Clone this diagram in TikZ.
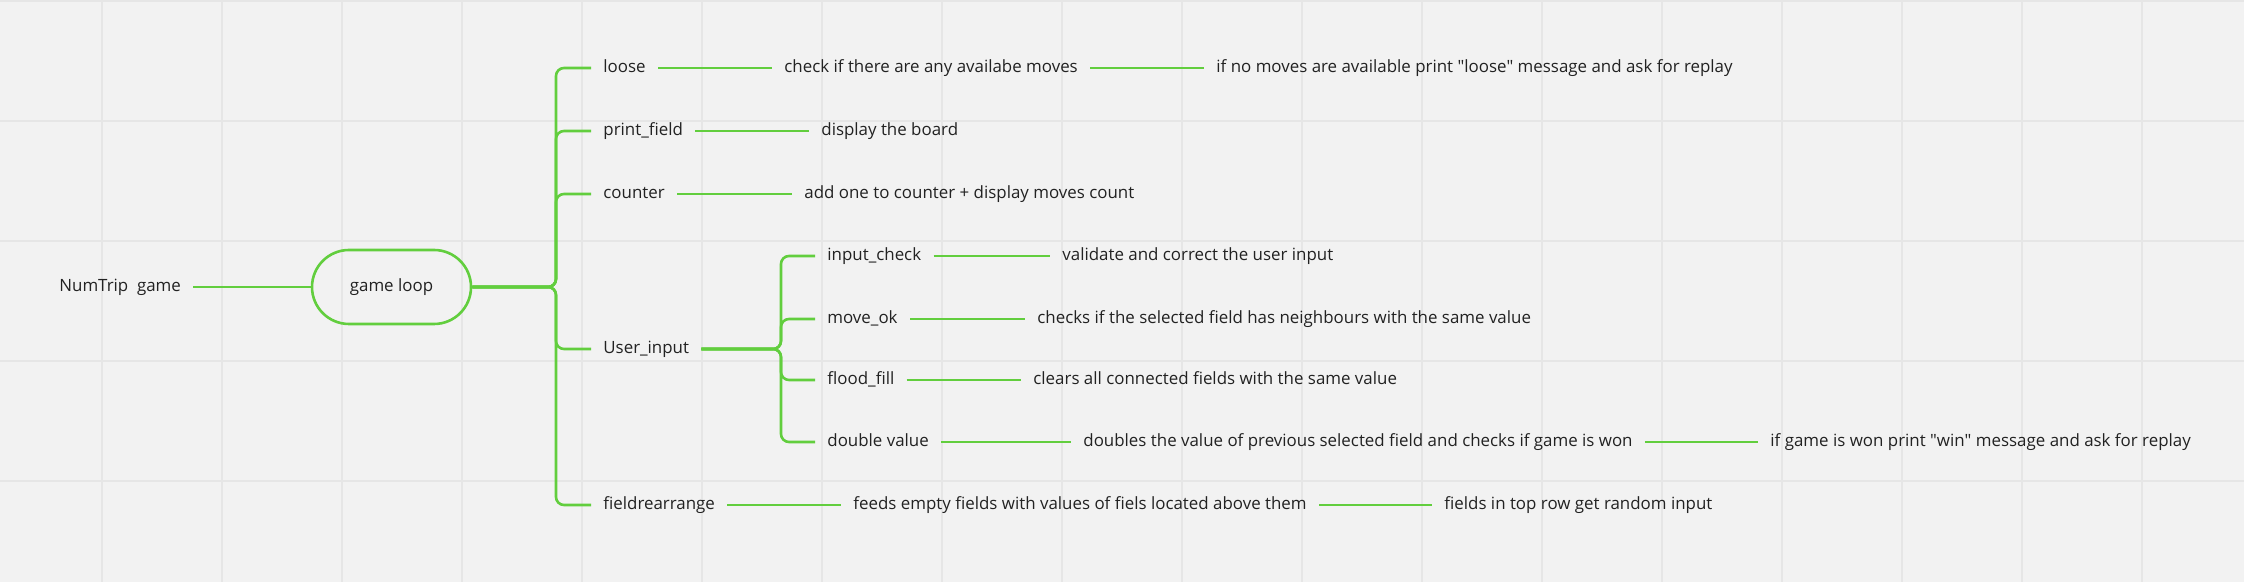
\documentclass[tikz,border=0pt]{standalone}
\usepackage{fontspec}
\setmainfont{Open Sans}
\usepackage{tikz}
\definecolor{bgcol}{RGB}{242,242,242}
\definecolor{gridcol}{RGB}{230,230,230}
\definecolor{linkgreen}{RGB}{98,206,62}
\definecolor{txtcol}{RGB}{34,34,34}

\begin{document}
\begin{tikzpicture}[x=0.5pt,y=-0.5pt,
	txt/.style={shape=rectangle,anchor=west,inner xsep=6pt,inner ysep=0pt,text height=6.5pt,text depth=2pt,text=txtcol,font=\fontsize{8.45pt}{10pt}\selectfont},
	loopbox/.style={shape=rectangle,draw=linkgreen,line width=1.3pt,rounded corners=18.5pt,minimum width=79.5pt,minimum height=37pt,text=txtcol,font=\fontsize{8.45pt}{10pt}\selectfont},
	link/.style={draw=linkgreen,line width=1.3pt},
	branch/.style={link,rounded corners=4pt},
	gridline/.style={draw=gridcol,line width=0.8pt}]
	\useasboundingbox (0,0) rectangle (2244,582);
	\fill[bgcol] (0,0) rectangle (2244,582);
	\foreach \gx in {102,222,...,2142} \draw[gridline] (\gx,0) -- (\gx,582);
	\foreach \gy in {1,121,241,361,481} \draw[gridline] (0,\gy) -- (2244,\gy);
	\node[txt](root) at (47,287) {NumTrip\ \ game};
	\node[loopbox](loop) at (391.5,287) {game loop};
	\coordinate(jl) at (556,287);
	\node[txt](loose) at (591,68) {loose};
	\node[txt](chk) at (772,68) {check if there are any availabe moves};
	\node[txt](nomv) at (1204,68) {if no moves are available print \textquotedbl loose\textquotedbl\ message and ask for replay};
	\node[txt](prt) at (591,131) {print\_field};
	\node[txt](brd) at (809,131) {display the board};
	\node[txt](cnt) at (591,194) {counter};
	\node[txt](add) at (792,194) {add one to counter + display moves count};
	\node[txt](uin) at (591,349) {User\_input};
	\coordinate(ju) at (781,349);
	\node[txt](ic) at (815,256) {input\_check};
	\node[txt](val) at (1050,256) {validate and correct the user input};
	\node[txt](mok) at (815,319) {move\_ok};
	\node[txt](nbr) at (1025,319) {checks if the selected field has neighbours with the same value};
	\node[txt](ff) at (815,380) {flood\_fill};
	\node[txt](clr) at (1021,380) {clears all connected fields with the same value};
	\node[txt](dv) at (815,442) {double value\hspace{7pt}};
	\node[txt](dbl) at (1071,442) {doubles the value of previous selected field and checks if game is won};
	\node[txt](won) at (1758,442) {if game is won print \textquotedbl win\textquotedbl\ message and ask for replay};
	\node[txt](fr) at (591,505) {fieldrearrange};
	\node[txt](feed) at (841,505) {feeds empty fields with values of fiels located above them};
	\node[txt](top) at (1432,505) {fields in top row get random input};
	\draw[link] (root) -- (loop);
	\foreach \c in {loose,prt,cnt,uin,fr} \draw[branch] (loop.east) -- (jl) |- (\c.west);
	\foreach \c in {ic,mok,ff,dv} \draw[branch] (uin.east) -- (ju) |- (\c.west);
	\draw[link] (loose) -- (chk);
	\draw[link] (chk) -- (nomv);
	\draw[link] (prt) -- (brd);
	\draw[link] (cnt) -- (add);
	\draw[link] (ic) -- (val);
	\draw[link] (mok) -- (nbr);
	\draw[link] (ff) -- (clr);
	\draw[link] (dv) -- (dbl);
	\draw[link] (dbl) -- (won);
	\draw[link] (fr) -- (feed);
	\draw[link] (feed) -- (top);
\end{tikzpicture}
\end{document}
